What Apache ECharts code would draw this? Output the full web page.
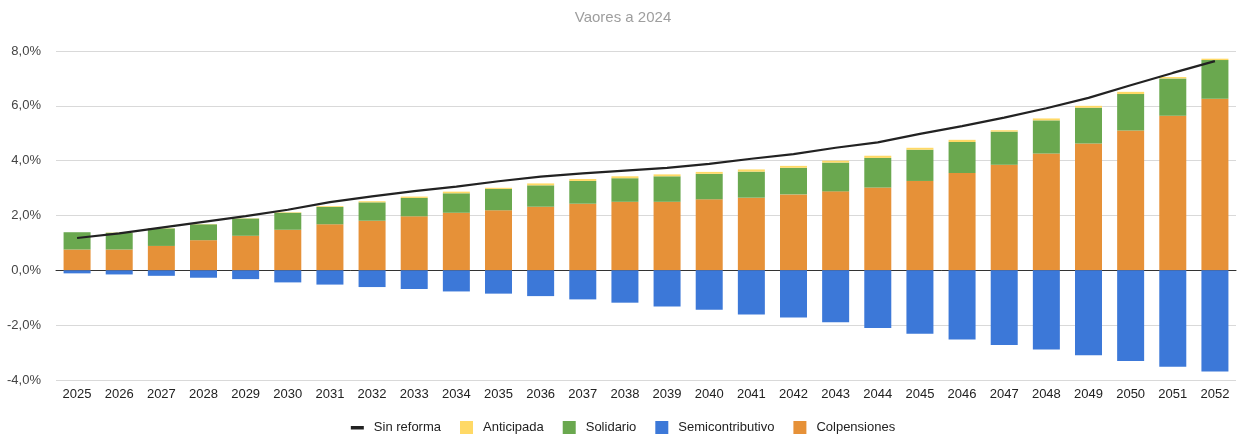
<!DOCTYPE html>
<html>
<head>
<meta charset="utf-8">
<script src="https://cdn.jsdelivr.net/npm/echarts@6/dist/echarts.min.js"></script>
<style>
  html, body { margin: 0; padding: 0; background: #fff; }
  #chart { width: 1246px; height: 437px; }
</style>
</head>
<body>
<div id="chart"></div>
<script>
// datos (en %)
const years = ['2025', '2026', '2027', '2028', '2029', '2030', '2031', '2032', '2033', '2034',
  '2035', '2036', '2037', '2038', '2039', '2040', '2041', '2042', '2043', '2044',
  '2045', '2046', '2047', '2048', '2049', '2050', '2051', '2052'];
const colpensiones = [0.76, 0.76, 0.89, 1.10, 1.26, 1.48, 1.68, 1.81, 1.97, 2.10,
  2.19, 2.32, 2.43, 2.50, 2.50, 2.59, 2.65, 2.77, 2.88, 3.02,
  3.26, 3.55, 3.85, 4.26, 4.63, 5.10, 5.64, 6.26];
const solidario = [0.63, 0.61, 0.64, 0.58, 0.63, 0.62, 0.63, 0.67, 0.67, 0.71,
  0.78, 0.78, 0.83, 0.86, 0.93, 0.93, 0.95, 0.97, 1.05, 1.08,
  1.14, 1.13, 1.21, 1.21, 1.30, 1.33, 1.36, 1.41];
const anticipada = [0.00, 0.01, 0.01, 0.01, 0.01, 0.02, 0.03, 0.04, 0.05, 0.06,
  0.04, 0.07, 0.07, 0.07, 0.07, 0.07, 0.08, 0.07, 0.07, 0.08,
  0.07, 0.08, 0.05, 0.07, 0.07, 0.08, 0.05, 0.05];
const semicontributivo = [-0.11, -0.15, -0.20, -0.27, -0.32, -0.44, -0.52, -0.61, -0.68, -0.77,
  -0.85, -0.94, -1.06, -1.18, -1.32, -1.44, -1.61, -1.72, -1.89, -2.10,
  -2.31, -2.52, -2.72, -2.89, -3.10, -3.31, -3.52, -3.69];
const sinReforma = [1.18, 1.35, 1.56, 1.77, 1.98, 2.21, 2.49, 2.70, 2.89, 3.05,
  3.25, 3.42, 3.54, 3.64, 3.74, 3.88, 4.07, 4.24, 4.47, 4.67,
  4.98, 5.26, 5.57, 5.91, 6.29, 6.75, 7.20, 7.63];

const myChart = echarts.init(document.getElementById('chart'));
const fuente = '"Liberation Sans", Arial, sans-serif';

myChart.setOption({
  animation: false,
  textStyle: { fontFamily: fuente },
  title: {
    text: 'Vaores a 2024',
    left: 'center',
    top: 5,
    textStyle: { color: '#9e9e9e', fontSize: 15, fontWeight: 'normal', fontFamily: fuente }
  },
  grid: {
    left: 56,
    right: 10,
    top: 51,
    bottom: 57
  },
  legend: {
    bottom: 3,
    left: 'center',
    padding: 0,
    itemWidth: 13,
    itemHeight: 13,
    itemGap: 19,
    textStyle: { color: '#222', fontSize: 13, fontFamily: fuente, padding: [0, 0, 0, 5] },
    data: [
      { name: 'Sin reforma', icon: 'path://M0,0M0,5h13v3.5H0zM13,13' },
      { name: 'Anticipada', icon: 'rect' },
      { name: 'Solidario', icon: 'rect' },
      { name: 'Semicontributivo', icon: 'rect' },
      { name: 'Colpensiones', icon: 'rect' }
    ]
  },
  xAxis: {
    type: 'category',
    data: years,
    axisTick: { show: false },
    axisLine: { show: true, lineStyle: { color: '#333', width: 1 } },
    axisLabel: { color: '#222', fontSize: 13, margin: 8 }
  },
  yAxis: {
    type: 'value',
    min: -4,
    max: 8,
    interval: 2,
    axisLabel: {
      color: '#444',
      fontSize: 13,
      margin: 15,
      formatter: function (v) {
        return v.toFixed(1).replace('.', ',') + '%';
      }
    },
    splitLine: { lineStyle: { color: '#d9d9d9', width: 1 } }
  },
  series: [
    {
      name: 'Colpensiones',
      type: 'bar',
      stack: 'total',
      barWidth: 27,
      itemStyle: { color: '#e69138' },
      data: colpensiones
    },
    {
      name: 'Solidario',
      type: 'bar',
      stack: 'total',
      barWidth: 27,
      itemStyle: { color: '#6aa84f' },
      data: solidario
    },
    {
      name: 'Anticipada',
      type: 'bar',
      stack: 'total',
      barWidth: 27,
      itemStyle: { color: '#ffd966' },
      data: anticipada
    },
    {
      name: 'Semicontributivo',
      type: 'bar',
      stack: 'total',
      barWidth: 27,
      itemStyle: { color: '#3c78d8' },
      data: semicontributivo
    },
    {
      name: 'Sin reforma',
      type: 'line',
      smooth: false,
      showSymbol: false,
      symbol: 'none',
      z: 10,
      itemStyle: { color: '#222' },
      lineStyle: { color: '#222', width: 2.2 },
      data: sinReforma
    }
  ]
});

window.addEventListener('resize', function () {
  myChart.resize();
});
</script>
</body>
</html>
